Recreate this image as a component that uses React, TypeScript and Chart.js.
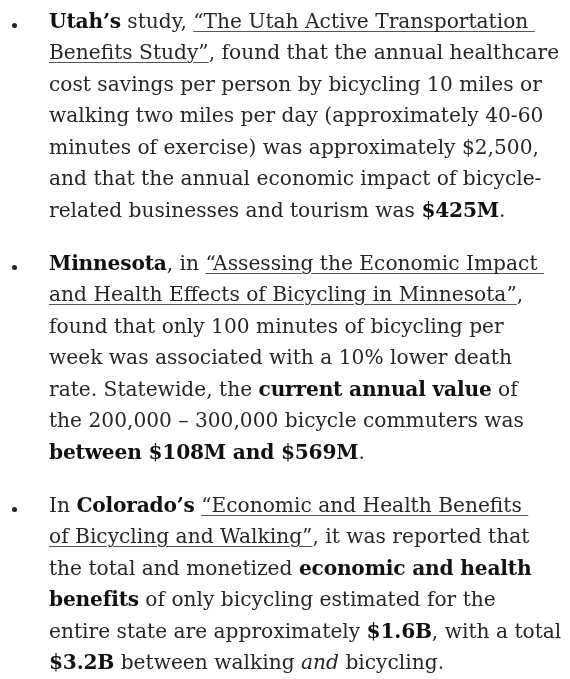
import React, { useEffect, useRef } from "react";
import { Chart, registerables } from "chart.js";

Chart.register(...registerables);

// Content: each paragraph is a list of lines; each line is a list of [style, text] runs.
// style: n = normal, b = bold, u = underlined link, i = italic
type Run = [string, string];

const utahLines: Run[][] = [
  [["b", "Utah\u2019s"], ["n", " study, "], ["u", "\u201CThe Utah Active Transportation\u00A0"]],
  [["u", "Benefits Study\u201D"], ["n", ", found that the annual healthcare"]],
  [["n", "cost savings per person by bicycling 10 miles or"]],
  [["n", "walking two miles per day (approximately 40-60"]],
  [["n", "minutes of exercise) was approximately $2,500,"]],
  [["n", "and that the annual economic impact of bicycle-"]],
  [["n", "related businesses and tourism was "], ["b", "$425M"], ["n", "."]],
];

const minnesotaLines: Run[][] = [
  [["b", "Minnesota"], ["n", ", in "], ["u", "\u201CAssessing the Economic Impact\u00A0"]],
  [["u", "and Health Effects of Bicycling in Minnesota\u201D"], ["n", ","]],
  [["n", "found that only 100 minutes of bicycling per"]],
  [["n", "week was associated with a 10% lower death"]],
  [["n", "rate. Statewide, the "], ["b", "current annual value"], ["n", " of"]],
  [["n", "the 200,000 \u2013 300,000 bicycle commuters was"]],
  [["b", "between $108M and $569M"], ["n", "."]],
];

const coloradoLines: Run[][] = [
  [["n", "In "], ["b", "Colorado\u2019s"], ["n", " "], ["u", "\u201CEconomic and Health Benefits\u00A0"]],
  [["u", "of Bicycling and Walking\u201D"], ["n", ", it was reported that"]],
  [["n", "the total and monetized "], ["b", "economic and health"]],
  [["b", "benefits"], ["n", " of only bicycling estimated for the"]],
  [["n", "entire state are approximately "], ["b", "$1.6B"], ["n", ", with a total"]],
  [["b", "$3.2B"], ["n", " between walking "], ["i", "and"], ["n", " bicycling."]],
];

const paragraphs: Run[][][] = [utahLines, minnesotaLines, coloradoLines];

const FONT = "'DejaVu Serif', serif";
const LINE_H = 31.5;
const TEXT_COLOR = "#262626";

function renderRun(r: Run, k: number) {
  const [s, t] = r;
  if (s === "b") return <strong key={k} style={{ fontWeight: 700, color: "#111", letterSpacing: "-0.2px" }}>{t}</strong>;
  if (s === "i") return <em key={k} style={{ fontStyle: "italic" }}>{t}</em>;
  if (s === "u")
    return (
      <span
        key={k}
        style={{
          textDecoration: "underline",
          textDecorationColor: "#555",
          textDecorationThickness: "1px",
          textUnderlineOffset: "3px",
        }}
      >
        {t}
      </span>
    );
  return <span key={k}>{t}</span>;
}

export default function App() {
  const canvasRef = useRef<HTMLCanvasElement | null>(null);

  useEffect(() => {
    if (!canvasRef.current) return;
    const chart = new Chart(canvasRef.current, {
      type: "scatter",
      data: { datasets: [] },
      options: {
        animation: false,
        responsive: false,
        events: [],
        plugins: { legend: { display: false }, tooltip: { enabled: false }, title: { display: false } },
        scales: { x: { display: false }, y: { display: false } },
      },
    });
    return () => chart.destroy();
  }, []);

  return (
    <div
      style={{
        position: "absolute",
        top: 0,
        left: 0,
        width: 570,
        height: 679,
        overflow: "hidden",
        background: "#ffffff",
      }}
    >
      <canvas
        ref={canvasRef}
        width={570}
        height={679}
        style={{ position: "absolute", top: 0, left: 0, width: 570, height: 679, pointerEvents: "none" }}
      />
      <div
        style={{
          position: "absolute",
          top: 5.5,
          left: 49,
          fontFamily: FONT,
          fontSize: 20.2,
          lineHeight: `${LINE_H}px`,
          color: TEXT_COLOR,
        }}
      >
        {paragraphs.map((lines, pi) => (
          <div key={pi} style={{ position: "relative", marginTop: pi === 0 ? 0 : 21.5 }}>
            <div
              style={{
                position: "absolute",
                left: -37,
                top: 17,
                width: 5,
                height: 5,
                borderRadius: "50%",
                background: "#222",
              }}
            />
            {lines.map((line, li) => (
              <div key={li} style={{ whiteSpace: "nowrap", height: LINE_H }}>
                {line.map((r, k) => renderRun(r, k))}
              </div>
            ))}
          </div>
        ))}
      </div>
    </div>
  );
}
